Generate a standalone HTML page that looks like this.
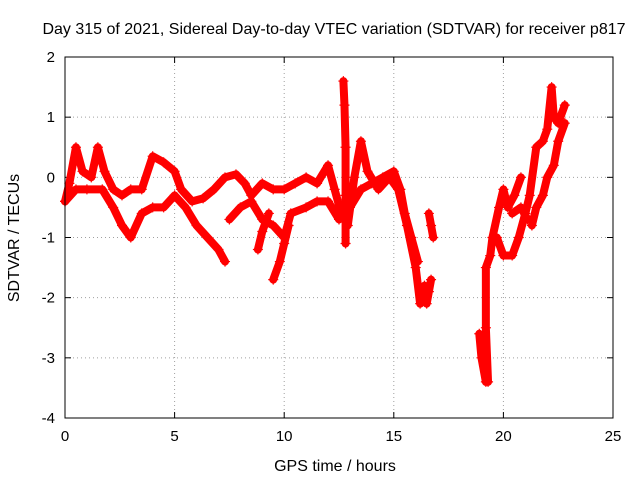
<!DOCTYPE html>
<html><head><meta charset="utf-8"><style>
body{margin:0;background:#fff;}
svg{display:block;font-family:"Liberation Sans",sans-serif;}
</style></head><body>
<svg id="chart" width="640" height="480" xmlns="http://www.w3.org/2000/svg">
<rect width="640" height="480" fill="#fff"/>
<text x="334" y="34" font-size="16" text-anchor="middle">Day 315 of 2021, Sidereal Day-to-day VTEC variation (SDTVAR) for receiver p817</text>
<text x="335" y="471" font-size="16" text-anchor="middle">GPS time / hours</text>
<text x="19" y="238" font-size="16" text-anchor="middle" transform="rotate(-90 19 238)">SDTVAR / TECUs</text>
<g id="grid"></g>
<g id="axes"></g>
<g id="marks"></g>
<rect x="65" y="57" width="548" height="361" fill="none" stroke="#000" stroke-width="1"/>
</svg>
<script>
const xTicks=[0,5,10,15,20,25];
const yTicks=[-4,-3,-2,-1,0,1,2];
const track1=[[0,-0.4],[0.2,-0.1],[0.5,0.5],[0.8,0.1],[1.2,0],[1.5,0.5],[1.8,0.1],[2.2,-0.2],[2.6,-0.3],[3,-0.2],[3.5,-0.2],[4,0.35],[4.5,0.25],[5,0.1],[5.3,-0.2],[5.8,-0.4],[6.3,-0.35],[6.8,-0.2],[7.3,0],[7.8,0.05],[8.2,-0.1],[8.5,-0.3],[9,-0.1],[9.5,-0.2],[10,-0.2],[10.5,-0.1],[11,0],[11.5,-0.1],[12,0.2],[12.3,-0.2],[12.6,-0.6],[12.9,-0.8],[13.2,0],[13.5,0.6],[13.8,0.1],[14.3,-0.2],[14.8,0],[15.2,-0.2],[15.6,-0.8],[16,-1.5],[16.2,-2.1],[16.4,-1.8]];
const track2=[[0,-0.4],[0.5,-0.2],[1,-0.2],[1.7,-0.2],[2.2,-0.5],[2.6,-0.8],[3,-1],[3.5,-0.6],[4,-0.5],[4.5,-0.5],[5,-0.3],[5.5,-0.5],[6,-0.8],[6.5,-1],[7,-1.2],[7.3,-1.4]];
const track3=[[7.5,-0.7],[8,-0.5],[8.5,-0.4],[9,-0.7],[9.5,-0.8],[10,-1.0],[10.3,-0.6],[11,-0.5],[11.5,-0.4],[12,-0.4],[12.5,-0.7],[13,-0.5],[13.5,-0.2],[14,-0.1],[14.5,0],[15,0.1],[15.3,-0.2],[15.5,-0.6],[15.8,-1.0],[16.1,-1.4]];
const track4=[[9.5,-1.7],[9.8,-1.4],[10,-1.1],[10.2,-0.8]];
const track5=[[8.8,-1.2],[9,-0.9],[9.3,-0.6]];
const track6=[[12.7,1.6],[12.75,1.2],[12.8,0.5],[12.8,-0.3],[12.8,-1.1]];
const track7=[[16.5,-2.1],[16.6,-1.9],[16.7,-1.7]];
const track8=[[16.6,-0.6],[16.7,-0.8],[16.8,-1]];
const track9=[[18.9,-2.6],[19,-3],[19.2,-3.4],[19.3,-3.4],[19.2,-2.5],[19.2,-1.5],[19.4,-1.3],[19.5,-1],[19.8,-0.5],[20,-0.2],[20.2,-0.5],[20.5,-0.3],[20.8,0]];
const track10=[[19.7,-1],[20,-1.3],[20.4,-1.3],[20.7,-1],[21,-0.6],[21.2,-0.3],[21.5,0.5],[21.8,0.6],[22,0.8],[22.2,1.5],[22.3,1.0],[22.5,0.9],[22.8,1.2]];
const track11=[[21.3,-0.8],[21.5,-0.5],[21.8,-0.3],[22,0],[22.3,0.2],[22.5,0.6],[22.8,0.9]];
const track12=[[20.4,-0.6],[20.8,-0.5],[21.1,-0.7]];
const tracks=[track1,track2,track3,track4,track5,track6,track7,track8,track9,track10,track11,track12];

const X0=65,X1=613,Y0=418,Y1=57;
const xs=v=>X0+(v-0)/(25-0)*(X1-X0);
const ys=v=>Y0-(v+4)/(2+4)*(Y0-Y1);
const NS="http://www.w3.org/2000/svg";
const grid=document.getElementById('grid'),axes=document.getElementById('axes'),marks=document.getElementById('marks');
function mk(tag,attrs,parent){const e=document.createElementNS(NS,tag);for(const k in attrs)e.setAttribute(k,attrs[k]);parent.appendChild(e);return e;}
xTicks.forEach(t=>{
  const x=xs(t);
  if(t>0&&t<25){const g=mk('line',{x1:x,x2:x,y1:Y1,y2:Y0,stroke:'#a0a0a0','stroke-dasharray':'1,3'},grid);
  
  }
  mk('line',{x1:x,x2:x,y1:Y0,y2:Y0-6,stroke:'#000'},axes);
  mk('line',{x1:x,x2:x,y1:Y1,y2:Y1+6,stroke:'#000'},axes);
  const l=mk('text',{x:x,y:Y0+23,'font-size':15,'text-anchor':'middle'},axes);l.textContent=t;
  
  
});
yTicks.forEach(t=>{
  const y=ys(t);
  if(t>-4&&t<2){const g=mk('line',{x1:X0,x2:X1,y1:y,y2:y,stroke:'#a0a0a0','stroke-dasharray':'1,3'},grid);
  
  }
  mk('line',{x1:X0,x2:X0+6,y1:y,y2:y,stroke:'#000'},axes);
  mk('line',{x1:X1,x2:X1-6,y1:y,y2:y,stroke:'#000'},axes);
  const l=mk('text',{x:X0-10,y:y+5,'font-size':15,'text-anchor':'end'},axes);l.textContent=t;
  
  
});
tracks.forEach((tr,i)=>{
  const pl=mk('polyline',{points:tr.map(p=>xs(p[0])+','+ys(p[1])).join(' '),fill:'none',stroke:'#f00','stroke-width':8,'stroke-linejoin':'round','stroke-linecap':'round'},marks);
  
  
  tr.forEach(p=>{
    const x=xs(p[0]),y=ys(p[1]);
    const m=mk('path',{d:`M${x-5},${y}H${x+5}M${x},${y-5}V${y+5}`,stroke:'#f00','stroke-width':1.2},marks);
    
    
  });
});
</script>
</body></html>
